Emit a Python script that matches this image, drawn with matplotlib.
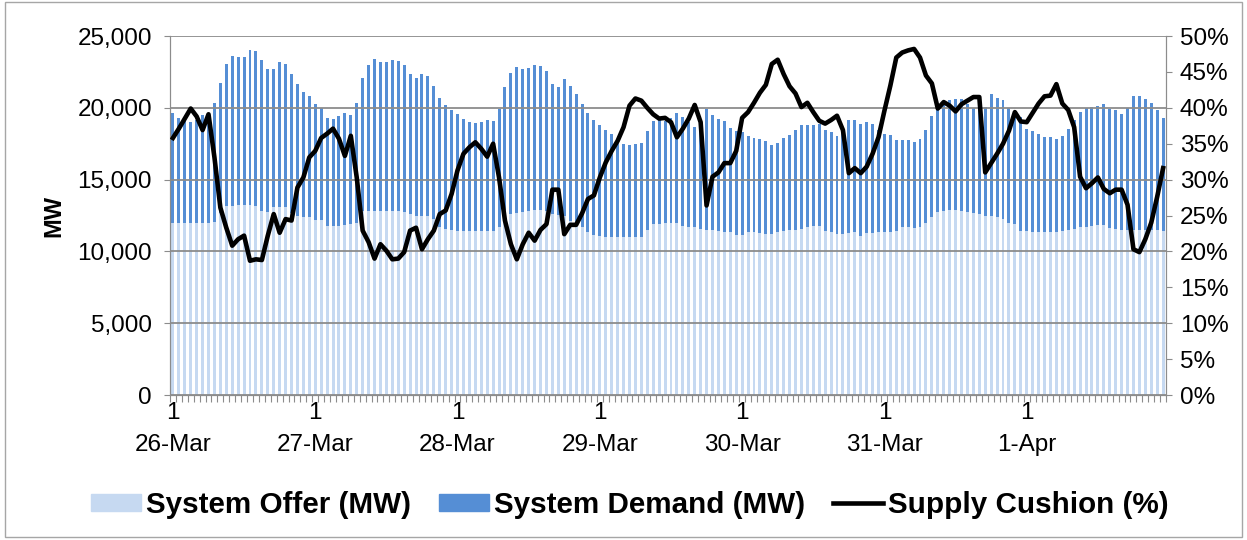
import numpy as np
import matplotlib.pyplot as plt
from matplotlib.patches import Patch, Rectangle
from matplotlib.lines import Line2D

plt.rcParams['font.family'] = ['Liberation Sans', 'DejaVu Sans']

days = ['26-Mar', '27-Mar', '28-Mar', '29-Mar', '30-Mar', '31-Mar', '1-Apr']

# hourly values, 24 per day
demand = [
    19630, 19300, 19160, 18980, 19160, 19470, 19630, 20370, 21720, 23070, 23630, 23540,
    23540, 24000, 23930, 23350, 22700, 22700, 23190, 23020, 22370, 21680, 21090, 20790,
    20280, 20000, 19300, 19230, 19400, 19630, 19470, 20370, 22090, 22950, 23420, 23190,
    23190, 23350, 23260, 22950, 22370, 22090, 22370, 22190, 21540, 20700, 20190, 19860,
    19540, 19210, 18980, 18930, 18980, 19120, 19070, 19900, 21440, 22410, 22820, 22670,
    22740, 22990, 22930, 22580, 21690, 21430, 22010, 21520, 20950, 20280, 19640, 19120,
    18770, 18450, 18190, 17810, 17500, 17390, 17510, 17550, 18380, 19050, 19120, 19100,
    19300, 19630, 19390, 19000, 18660, 18900, 19940, 19530, 19210, 19060, 18610, 18380,
    18340, 18050, 17870, 17810, 17660, 17380, 17520, 17890, 18130, 18430, 18810, 18810,
    18810, 18870, 18470, 18340, 18040, 18480, 19120, 19120, 18860, 19010, 18870, 18480,
    18180, 18140, 17750, 17790, 17790, 17650, 17810, 18470, 19460, 20000, 20490, 20510,
    20610, 20610, 20250, 20000, 19840, 20090, 20970, 20690, 20530, 20000, 19450, 19360,
    18550, 18390, 18160, 18000, 18000, 17840, 18070, 18550, 19170, 19700, 20000, 20090,
    20110, 20280, 19950, 19820, 19540, 20000, 20790, 20790, 20580, 20370, 19820, 19310,
]

offer = [
    11950, 11950, 11950, 11950, 11950, 11950, 11950, 12020, 12650, 13150, 13180, 13200,
    13200, 13200, 13180, 12840, 12720, 13070, 13070, 13070, 12650, 12490, 12420, 12420,
    12180, 12180, 11790, 11790, 11790, 11830, 11900, 12000, 12840, 12840, 12840, 12840,
    12840, 12840, 12820, 12770, 12600, 12490, 12440, 12440, 12250, 11670, 11560, 11510,
    11440, 11440, 11440, 11440, 11440, 11440, 11440, 11670, 12580, 12600, 12670, 12720,
    12840, 12900, 12900, 12840, 12600, 12560, 12490, 12140, 11900, 11670, 11370, 11160,
    11090, 10980, 10980, 10980, 10980, 10980, 10980, 10980, 11510, 11900, 11900, 11950,
    11950, 11950, 11790, 11670, 11670, 11560, 11510, 11510, 11440, 11370, 11320, 11140,
    11140, 11320, 11320, 11250, 11210, 11210, 11320, 11440, 11510, 11510, 11560, 11670,
    11740, 11740, 11440, 11320, 11210, 11210, 11280, 11320, 11090, 11250, 11300, 11320,
    11320, 11370, 11440, 11670, 11670, 11630, 11670, 11950, 12420, 12720, 12840, 12900,
    12900, 12840, 12770, 12650, 12600, 12490, 12440, 12370, 12250, 11950, 11900, 11440,
    11400, 11370, 11370, 11370, 11370, 11370, 11440, 11490, 11560, 11670, 11720, 11790,
    11840, 11840, 11610, 11560, 11490, 11490, 11490, 11490, 11490, 11490, 11490, 11440,
]

cushion = [
    35.8, 37.1, 38.5, 39.9, 38.8, 36.9, 39.1, 33.1, 26.1, 23.3, 20.8, 21.7,
    22.2, 18.7, 18.9, 18.8, 22.2, 25.2, 22.6, 24.5, 24.3, 28.9, 30.3, 33.1,
    34.0, 35.8, 36.4, 37.1, 35.7, 33.3, 36.1, 30.3, 22.9, 21.3, 19.0, 21.0,
    20.1, 18.9, 19.0, 19.9, 22.9, 23.3, 20.3, 21.7, 22.9, 25.2, 25.7, 28.0,
    31.3, 33.6, 34.5, 35.2, 34.3, 33.2, 35.0, 30.3, 24.3, 21.0, 18.9, 21.0,
    22.6, 21.5, 23.0, 23.8, 28.6, 28.6, 22.4, 23.7, 23.7, 25.3, 27.3, 27.8,
    30.3, 32.4, 34.0, 35.4, 37.3, 40.3, 41.3, 41.0, 40.0, 39.1, 38.5, 38.6,
    38.0, 35.9, 37.1, 38.5, 40.4, 38.0, 26.4, 30.4, 31.0, 32.3, 32.3, 34.0,
    38.6, 39.4, 40.7, 42.1, 43.2, 46.1, 46.7, 44.7, 43.0, 42.0, 40.1, 40.7,
    39.4, 38.2, 37.8, 38.3, 38.9, 36.9, 30.9, 31.6, 30.9, 31.8, 33.6, 35.9,
    39.6, 43.1, 47.0, 47.7, 48.0, 48.2, 47.0, 44.5, 43.4, 39.9, 40.8, 40.3,
    39.5, 40.5, 41.0, 41.5, 41.5, 31.0, 32.3, 33.6, 35.0, 36.8, 39.4, 38.1,
    38.0, 39.3, 40.6, 41.6, 41.7, 43.3, 40.6, 39.7, 37.3, 30.4, 28.8, 29.5,
    30.3, 28.7, 28.1, 28.6, 28.6, 26.5, 20.3, 19.9, 21.7, 24.0, 27.6, 31.6,
]

dark = '#558ED5'
light = '#C6D9F1'
grey = '#8c8c8c'

n = len(demand)
x = np.arange(n)

fig = plt.figure(figsize=(12.47, 5.40), dpi=100)
ax = fig.add_axes([0.1363, 0.2685, 0.7988, 0.6648])

ax.bar(x, demand, width=0.5, color=dark, zorder=1)
ax.bar(x, offer, width=0.5, color=light, zorder=1.5)

ax.set_xlim(-0.5, n - 0.5)
ax.set_ylim(0, 25000)
ax.set_yticks(np.arange(0, 25001, 5000))
ax.set_yticklabels([f'{v:,}' for v in range(0, 25001, 5000)], fontsize=17.5)
ax.yaxis.grid(True, color=grey, lw=1.3)
ax.set_axisbelow(False)
ax.set_ylabel('MW', fontsize=17, fontweight='bold')
ax.yaxis.set_label_coords(-0.105, 0.5)

ax.set_xticks(np.arange(-0.5, n, 1))
ax.set_xticklabels([])
ax.tick_params(axis='x', length=5, color=grey, width=0.8)
ax.tick_params(axis='y', length=4, color=grey, pad=9)

for i, d in enumerate(days):
    ax.text(i * 24, -0.05, '1', transform=ax.get_xaxis_transform(),
            ha='center', va='center', fontsize=17.5)
    ax.text(i * 24, -0.139, d, transform=ax.get_xaxis_transform(),
            ha='center', va='center', fontsize=17.5)

for s in ['left', 'right', 'bottom']:
    ax.spines[s].set_color(grey)
ax.spines['top'].set_visible(False)

ax2 = ax.twinx()
ax2.plot(x, cushion, color='black', lw=3.3, zorder=5)
ax2.set_ylim(0, 50)
ax2.set_yticks(np.arange(0, 51, 5))
ax2.set_yticklabels([f'{v}%' for v in range(0, 51, 5)], fontsize=17.5)
ax2.tick_params(axis='y', length=4, color=grey, pad=6)
for s in ['left', 'right', 'bottom']:
    ax2.spines[s].set_color(grey)
ax2.spines['top'].set_visible(False)

handles = [Patch(color=light), Patch(color=dark), Line2D([], [], color='black', lw=3.3)]
labels = ['System Offer (MW)', 'System Demand (MW)', 'Supply Cushion (%)']
fig.legend(handles, labels, loc='center', bbox_to_anchor=(0.505, 0.065), ncol=3,
           frameon=False, prop={'size': 21.3, 'weight': 'bold'},
           handlelength=1.7, handleheight=0.5, handletextpad=0.15, columnspacing=0.95)

fig.patches.append(Rectangle((0.004, 0.006), 0.992, 0.99, transform=fig.transFigure,
                             fill=False, ec='#a6a6a6', lw=1))

fig.savefig('out.png', dpi=100)
